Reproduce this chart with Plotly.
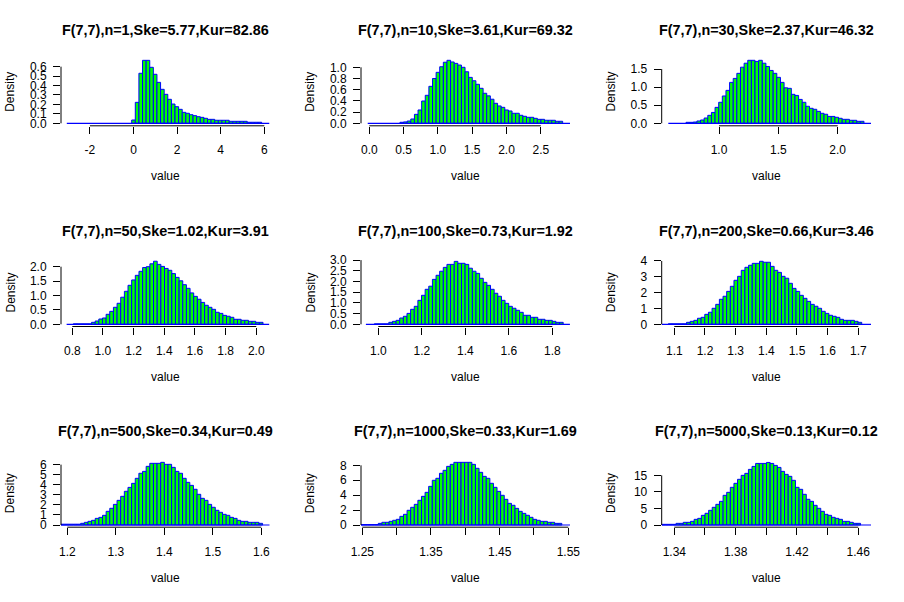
import plotly.graph_objects as go

# ---------------- data ----------------
titles = [
    "F(7,7),n=1,Ske=5.77,Kur=82.86",
    "F(7,7),n=10,Ske=3.61,Kur=69.32",
    "F(7,7),n=30,Ske=2.37,Kur=46.32",
    "F(7,7),n=50,Ske=1.02,Kur=3.91",
    "F(7,7),n=100,Ske=0.73,Kur=1.92",
    "F(7,7),n=200,Ske=0.66,Kur=3.46",
    "F(7,7),n=500,Ske=0.34,Kur=0.49",
    "F(7,7),n=1000,Ske=0.33,Kur=1.69",
    "F(7,7),n=5000,Ske=0.13,Kur=0.12",
]

# first bin edge and bin width of each histogram
bin_start = [-0.083, 0.447, 0.722, 0.8065, 0.9816, 1.0804, 1.1826, 1.2471, 1.3317]
bin_width = [0.1656, 0.0527, 0.0306, 0.0238, 0.0167, 0.0119, 0.0075, 0.00524, 0.00236]
# range of the histogram breaks (zero-count bins drawn as baseline)
break_lo = [-3.06, -0.023, 0.573, 0.763, 0.943, 1.059, 1.1826, 1.2467, 1.3318]
break_hi = [6.24, 2.936, 2.286, 2.085, 1.881, 1.7436, 1.618, 1.5525, 1.4688]

dens_n1 = [0.035, 0.222, 0.53, 0.667, 0.667, 0.593, 0.519, 0.434, 0.36, 0.307, 0.254, 0.204,
           0.176, 0.148, 0.116, 0.106, 0.091, 0.081, 0.07, 0.063, 0.053, 0.042, 0.042, 0.032,
           0.032, 0.032, 0.032, 0.021, 0.021, 0.021, 0.021, 0.021, 0.011, 0.011, 0.011, 0.011]
dens_n10 = [0.018, 0.025, 0.041, 0.077, 0.16, 0.238, 0.398, 0.5, 0.66, 0.80, 0.91, 1.01, 1.09,
            1.125, 1.095, 1.07, 1.04, 1.0, 0.92, 0.82, 0.76, 0.696, 0.625, 0.536, 0.49, 0.43,
            0.357, 0.31, 0.285, 0.238, 0.22, 0.179, 0.179, 0.143, 0.125, 0.107, 0.107, 0.089,
            0.071, 0.071, 0.054, 0.054, 0.054, 0.036, 0.036]
dens_n30 = [0.027, 0.027, 0.035, 0.064, 0.091, 0.146, 0.22, 0.30, 0.44, 0.58, 0.755, 0.91, 1.13,
            1.24, 1.38, 1.55, 1.66, 1.74, 1.74, 1.71, 1.74, 1.66, 1.57, 1.46, 1.38, 1.27, 1.13,
            0.98, 0.966, 0.80, 0.77, 0.66, 0.58, 0.47, 0.414, 0.387, 0.33, 0.276, 0.25, 0.19,
            0.19, 0.166, 0.138, 0.11, 0.11, 0.083, 0.083, 0.055, 0.055]
dens_n50 = [0.015, 0.015, 0.015, 0.015, 0.015,
            0.068, 0.115, 0.184, 0.219, 0.347, 0.45, 0.59, 0.73, 0.94, 1.146, 1.354, 1.54, 1.70,
            1.84, 1.97, 2.0, 2.10, 2.19, 2.08, 2.01, 1.94, 1.875, 1.76, 1.63, 1.51, 1.375, 1.25,
            1.09, 0.97, 0.87, 0.76, 0.66, 0.59, 0.52, 0.417, 0.38, 0.31, 0.28, 0.243, 0.174,
            0.174, 0.139, 0.139, 0.104, 0.104, 0.068, 0.068]
dens_n100 = [0.02, 0.02, 0.02, 0.02,
             0.092, 0.139, 0.185, 0.294, 0.374, 0.51, 0.70, 0.84, 1.12, 1.355, 1.635, 1.78, 2.10,
             2.29, 2.48, 2.66, 2.80, 2.80, 2.94, 2.85, 2.85, 2.80, 2.62, 2.48, 2.38, 2.15, 1.96,
             1.82, 1.635, 1.45, 1.31, 1.12, 0.98, 0.84, 0.75, 0.654, 0.56, 0.42, 0.42, 0.327,
             0.327, 0.234, 0.234, 0.185, 0.185, 0.139, 0.092, 0.092]
dens_n200 = [0.03, 0.03, 0.03, 0.03, 0.03,
             0.124, 0.188, 0.25, 0.38, 0.44, 0.63, 0.76, 1.01, 1.26, 1.58, 1.77, 2.08, 2.40, 2.78,
             3.03, 3.41, 3.60, 3.73, 3.85, 3.85, 3.98, 3.92, 3.92, 3.66, 3.41, 3.28, 3.03, 2.91,
             2.59, 2.27, 2.08, 1.83, 1.64, 1.45, 1.26, 1.14, 1.01, 0.82, 0.69, 0.57, 0.505, 0.44,
             0.316, 0.25, 0.25, 0.25, 0.188, 0.124]
dens_n500 = [0.08, 0.08, 0.08, 0.08, 0.08, 0.08,
             0.166, 0.265, 0.365, 0.464, 0.66, 0.76, 0.96, 1.36, 1.66, 2.05, 2.45, 2.85, 3.35,
             3.74, 4.14, 4.64, 5.14, 5.33, 5.83, 6.13, 6.13, 6.13, 6.23, 6.03, 6.03, 5.73, 5.33,
             5.14, 4.64, 4.24, 3.94, 3.55, 3.05, 2.65, 2.45, 2.05, 1.76, 1.46, 1.26, 1.06, 0.96,
             0.76, 0.66, 0.464, 0.365, 0.365, 0.265, 0.265, 0.265, 0.166]
dens_n1000 = [0.06, 0.06, 0.06, 0.06, 0.06,
              0.22, 0.36, 0.36, 0.49, 0.63, 0.76, 1.16, 1.43, 1.97, 2.37, 2.77, 3.31, 3.84, 4.38,
              5.18, 5.99, 6.26, 6.93, 7.33, 7.86, 8.13, 8.40, 8.40, 8.40, 8.40, 8.40, 8.13, 7.6,
              7.06, 6.52, 6.26, 5.59, 5.05, 4.51, 3.98, 3.44, 2.9, 2.64, 2.23, 1.83, 1.56, 1.30,
              1.03, 0.76, 0.63, 0.49, 0.49, 0.36, 0.36, 0.22, 0.22]
dens_n5000 = [0.2, 0.2, 0.2, 0.2,
              0.5, 0.5, 0.81, 0.81, 1.11, 1.71, 2.01, 2.92, 3.53, 4.43, 5.34, 6.24, 7.15, 8.96,
              9.87, 11.38, 12.59, 13.8, 15.0, 15.6, 16.8, 17.7, 18.6, 18.6, 18.6, 18.9, 18.6,
              18.0, 17.4, 16.2, 15.3, 14.7, 13.5, 11.38, 10.78, 9.27, 7.76, 7.15, 5.94, 5.04,
              4.13, 3.22, 2.92, 2.32, 2.01, 1.71, 1.11, 1.11, 0.81, 0.5, 0.5]
densities = [dens_n1, dens_n10, dens_n30, dens_n50, dens_n100, dens_n200,
             dens_n500, dens_n1000, dens_n5000]

x_ticks = [
    [-2, 0, 2, 4, 6],
    [0.0, 0.5, 1.0, 1.5, 2.0, 2.5],
    [1.0, 1.5, 2.0],
    [0.8, 1.0, 1.2, 1.4, 1.6, 1.8, 2.0],
    [1.0, 1.2, 1.4, 1.6, 1.8],
    [1.1, 1.2, 1.3, 1.4, 1.5, 1.6, 1.7],
    [1.2, 1.3, 1.4, 1.5, 1.6],
    [1.25, 1.30, 1.35, 1.40, 1.45, 1.50, 1.55],
    [1.34, 1.36, 1.38, 1.40, 1.42, 1.44, 1.46],
]
x_labels = [
    ["-2", "0", "2", "4", "6"],
    ["0.0", "0.5", "1.0", "1.5", "2.0", "2.5"],
    ["1.0", "1.5", "2.0"],
    ["0.8", "1.0", "1.2", "1.4", "1.6", "1.8", "2.0"],
    ["1.0", "1.2", "1.4", "1.6", "1.8"],
    ["1.1", "1.2", "1.3", "1.4", "1.5", "1.6", "1.7"],
    ["1.2", "1.3", "1.4", "1.5", "1.6"],
    ["1.25", "", "1.35", "", "1.45", "", "1.55"],
    ["1.34", "", "1.38", "", "1.42", "", "1.46"],
]
y_ticks = [
    [0.0, 0.1, 0.2, 0.3, 0.4, 0.5, 0.6],
    [0.0, 0.2, 0.4, 0.6, 0.8, 1.0],
    [0.0, 0.5, 1.0, 1.5],
    [0.0, 0.5, 1.0, 1.5, 2.0],
    [0.0, 0.5, 1.0, 1.5, 2.0, 2.5, 3.0],
    [0, 1, 2, 3, 4],
    [0, 1, 2, 3, 4, 5, 6],
    [0, 2, 4, 6, 8],
    [0, 5, 10, 15],
]
y_labels = [
    ["0.0", "0.1", "0.2", "0.3", "0.4", "0.5", "0.6"],
    ["0.0", "0.2", "0.4", "0.6", "0.8", "1.0"],
    ["0.0", "0.5", "1.0", "1.5"],
    ["0.0", "0.5", "1.0", "1.5", "2.0"],
    ["0.0", "0.5", "1.0", "1.5", "2.0", "2.5", "3.0"],
    ["0", "1", "2", "3", "4"],
    ["0", "1", "2", "3", "4", "5", "6"],
    ["0", "2", "4", "6", "8"],
    ["0", "5", "10", "15"],
]

# ---------------- layout (pixels) ----------------
W, H = 904, 602
col_left = [61, 361, 661.7]
col_right = [269.5, 570, 871]
row_top = [57.8, 258.5, 459.2]
row_bot = [125.8, 326.5, 527.2]
# pixel calibration: (x pixel, x value, px per x unit, y-zero pixel, px per y unit)
calib = [
    (133.5, 0.0, 21.8, 123.3, 94.4),
    (369.3, 0.0, 68.6, 123.3, 56.0),
    (719.0, 1.0, 118.7, 123.3, 36.2),
    (72.3, 0.8, 153.3, 324.3, 28.8),
    (378.3, 1.0, 217.5, 324.3, 21.4),
    (674.3, 1.1, 306.7, 324.3, 15.83),
    (67.3, 1.2, 485.0, 525.0, 10.06),
    (362.3, 1.25, 686.7, 525.0, 7.46),
    (674.3, 1.34, 1533.0, 525.0, 3.31),
]

FONT = "Liberation Sans, Arial, Helvetica, sans-serif"
GREEN = "#00FF00"
BLUE = "#0000FF"

fig = go.Figure()
layout = dict(
    template="none",
    width=W, height=H, margin=dict(l=0, r=0, t=0, b=0, pad=0, autoexpand=False),
    paper_bgcolor="white", plot_bgcolor="white", showlegend=False,
    bargap=0, font=dict(family=FONT, size=12, color="black"),
)
shapes = []
annotations = []

for i in range(9):
    r, c = divmod(i, 3)
    L, R, T, B = col_left[c], col_right[c], row_top[r], row_bot[r]
    px0, xv0, xs, pz, ys = calib[i]
    xr = [xv0 + (L - px0) / xs, xv0 + (R - px0) / xs]
    yr = [(pz - B) / ys, (pz - T) / ys]
    sfx = "" if i == 0 else str(i + 1)
    xa, ya = "x" + sfx, "y" + sfx

    d = densities[i]
    w = bin_width[i]
    centers = [bin_start[i] + w * (k + 0.5) for k in range(len(d))]

    # baseline (empty bins drawn as border line)
    fig.add_trace(go.Scatter(
        x=[break_lo[i], break_hi[i]], y=[0, 0], mode="lines",
        line=dict(color=BLUE, width=1.2), xaxis=xa, yaxis=ya, hoverinfo="skip"))
    fig.add_trace(go.Bar(
        x=centers, y=d, width=[w] * len(d), xaxis=xa, yaxis=ya,
        marker=dict(color=GREEN, line=dict(color=BLUE, width=1))))

    layout["xaxis" + sfx] = dict(
        domain=[L / W, R / W], range=xr, anchor=ya, automargin=False,
        showline=False, showgrid=False, zeroline=False,
        ticks="outside", ticklen=7, tickwidth=1, tickcolor="black",
        tickmode="array", tickvals=x_ticks[i], ticktext=x_labels[i],
        tickfont=dict(family=FONT, size=12, color="black"),
        ticklabelstandoff=6, fixedrange=True)
    layout["yaxis" + sfx] = dict(
        domain=[1 - B / H, 1 - T / H], range=yr, anchor=xa, automargin=False,
        showline=False, showgrid=False, zeroline=False,
        ticks="outside", ticklen=7, tickwidth=1, tickcolor="black",
        tickmode="array", tickvals=y_ticks[i], ticktext=y_labels[i],
        tickfont=dict(family=FONT, size=12, color="black"),
        ticklabelstandoff=4, fixedrange=True)

    # axis lines spanning first to last tick (R style)
    shapes.append(dict(type="line", xref=xa, yref=ya + " domain",
                       x0=x_ticks[i][0], x1=x_ticks[i][-1], y0=0, y1=0,
                       line=dict(color="black", width=1)))
    shapes.append(dict(type="line", xref=xa + " domain", yref=ya,
                       x0=0, x1=0, y0=y_ticks[i][0], y1=y_ticks[i][-1],
                       line=dict(color="black", width=1)))

    # title, x label, y label
    annotations.append(dict(
        text="<b>" + titles[i] + "</b>", xref="paper", yref="paper",
        x=(L + R) / 2 / W, y=1 - (T - 27.8) / H, xanchor="center", yanchor="middle",
        showarrow=False, font=dict(family=FONT, size=14.4, color="black")))
    annotations.append(dict(
        text="value", xref="paper", yref="paper",
        x=(L + R) / 2 / W, y=1 - (B + 50.3) / H, xanchor="center", yanchor="middle",
        showarrow=False, font=dict(family=FONT, size=12, color="black")))
    annotations.append(dict(
        text="Density", xref="paper", yref="paper", textangle=-90,
        x=(L - 51) / W, y=1 - (T + B) / 2 / H, xanchor="center", yanchor="middle",
        showarrow=False, font=dict(family=FONT, size=12, color="black")))

layout["shapes"] = shapes
layout["annotations"] = annotations
fig.update_layout(**layout)
fig.write_html(
    "out.html",
    config={"displayModeBar": False, "staticPlot": True},
    post_script="document.body.style.margin='0';document.body.style.padding='0';"
                "document.body.style.overflow='hidden';",
)
